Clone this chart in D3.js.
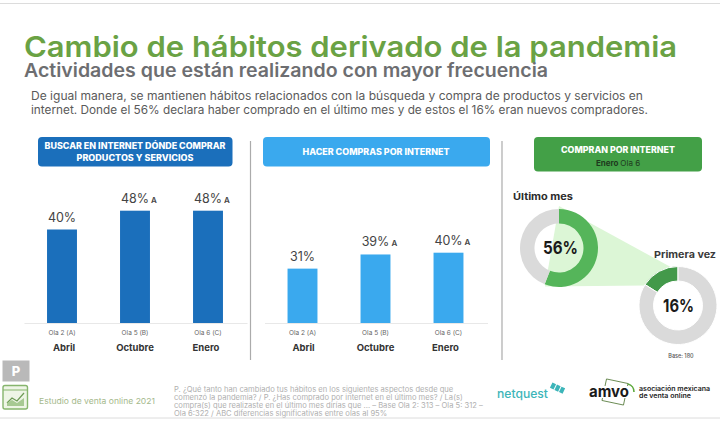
<!DOCTYPE html>
<html>
<head>
<meta charset="utf-8">
<script src="https://cdn.jsdelivr.net/npm/d3@7"></script>
<style>
html, body { margin: 0; padding: 0; background: #fff; }
svg { display: block; }
text { font-family: Inter, "Open Sans", sans-serif; }
</style>
</head>
<body>
<svg id="chart" width="720" height="430"></svg>
<script>
var olas = ["Ola 2 (A)", "Ola 5 (B)", "Ola 6 (C)"];
var months = ["Abril", "Octubre", "Enero"];
var buscarValues = [40, 48, 48];
var comprasValues = [31, 39, 40];
var sigLetters = ["", "A", "A"];
var ultimoMes = [56, 44];
var primeraVez = [16, 84];
var footnote = [
    "P. ¿Qué tanto han cambiado tus hábitos en los siguientes aspectos desde que",
    "comenzó la pandemia? / P. ¿Has comprado por internet en el último mes? / La(s)",
    "compra(s) que realizaste en el último mes dirías que ... – Base Ola 2: 313 – Ola 5: 312 –",
    "Ola 6:322 / ABC diferencias significativas entre olas al 95%"
];

var svg = d3.select("#chart");
var baseY = 323.5;

function label(x, y, str, size, weight, color, anchor, len) {
    var t = svg.append("text")
        .attr("x", x).attr("y", y)
        .attr("font-size", size)
        .attr("font-weight", weight)
        .attr("fill", color)
        .attr("text-anchor", anchor || "start")
        .text(str);
    if (len) t.attr("textLength", len).attr("lengthAdjust", "spacingAndGlyphs");
    return t;
}

function hline(y) {
    svg.append("line").attr("x1", 0).attr("x2", 720).attr("y1", y).attr("y2", y)
        .attr("stroke", "#dcdcdc").attr("stroke-width", 1);
}

function divider(x) {
    svg.append("line").attr("x1", x).attr("x2", x).attr("y1", 141).attr("y2", 360)
        .attr("stroke", "#ababab").attr("stroke-width", 1.2);
}

function header(x, y, w, h, color) {
    svg.append("rect").attr("x", x).attr("y", y).attr("width", w).attr("height", h)
        .attr("rx", 4).attr("fill", color);
}

function barPanel(x0, pxPerPct, values, color, offsets) {
    var x = d3.scaleBand().domain(months).range([x0, x0 + 219]).paddingInner(0.59).paddingOuter(0.295);
    var y = d3.scaleLinear().domain([0, 100]).range([baseY, baseY - pxPerPct * 100]);
    var g = svg.append("g");

    g.selectAll("rect").data(values).enter().append("rect")
        .attr("x", (d, i) => x(months[i]))
        .attr("y", d => y(d))
        .attr("width", x.bandwidth())
        .attr("height", d => baseY - y(d))
        .attr("fill", color);

    var axis = g.append("g").attr("transform", `translate(0,${baseY})`)
        .call(d3.axisBottom(x).tickSize(0).tickPadding(7).tickFormat((d, i) => olas[i]));
    axis.select(".domain").attr("stroke", "#e8e8e8").attr("stroke-width", 1.2)
        .attr("d", `M${x0 - 1},0H${x0 + 222}`);
    axis.selectAll("text").attr("font-size", 6.5).attr("fill", "#666").attr("font-family", "Inter");

    months.forEach((m, i) => {
        var cx = x(m) + x.bandwidth() / 2;
        label(cx + offsets[i], 351, m, 9.5, 700, "#333", "middle");
        label(cx, y(values[i]) - 8, values[i] + "%", 12.5, 400, "#444", "middle");
        if (sigLetters[i]) {
            label(cx + 19, y(values[i]) - 8, sigLetters[i], 8, 600, "#444", "middle");
        }
    });
}

function donut(cx, cy, values, direction, color, gap) {
    var pie = d3.pie().sort(null).startAngle(0).endAngle(direction * 2 * Math.PI);
    var arc = d3.arc().innerRadius(24.5).outerRadius(39);
    svg.append("g").attr("transform", `translate(${cx},${cy})`)
        .selectAll("path").data(pie(values)).enter().append("path")
        .attr("d", arc)
        .attr("fill", (d, i) => i == 0 ? color : "#dadada")
        .attr("stroke", gap ? "#fff" : "none")
        .attr("stroke-width", gap);
}

hline(3.5);
hline(418);

// heading
label(24, 57, "Cambio de hábitos derivado de la pandemia", 29, 600, "#6aa244", "start", 653);
label(24, 76.5, "Actividades que están realizando con mayor frecuencia", 18.5, 600, "#6d6e71", "start", 524);
label(31, 100, "De igual manera, se mantienen hábitos relacionados con la búsqueda y compra de productos y servicios en", 11.5, 400, "#5a5a5a", "start", 612);
label(31, 113.5, "internet. Donde el 56% declara haber comprado en el último mes y de estos el 16% eran nuevos compradores.", 11.5, 400, "#5a5a5a", "start", 617);

// panel headers
header(38, 137, 194.5, 29.5, "#1b6fbb");
header(263, 137, 227, 29.5, "#3aa9ee");
header(534, 137, 168, 34.5, "#43a047");
label(135, 149, "BUSCAR EN INTERNET DÓNDE COMPRAR", 8.5, 800, "#fff", "middle", 181);
label(135, 160.5, "PRODUCTOS Y SERVICIOS", 8.5, 800, "#fff", "middle", 117);
label(376, 155, "HACER COMPRAS POR INTERNET", 8.5, 800, "#fff", "middle", 147);
label(618, 153, "COMPRAN POR INTERNET", 8.5, 800, "#fff", "middle", 114);
var enero = label(618, 165.5, "", 8, 700, "#1e3a1e", "middle");
enero.append("tspan").attr("font-weight", 700).text("Enero ");
enero.append("tspan").attr("font-weight", 400).text("Ola 6");

divider(250.5);
divider(502);

barPanel(25.5, 2.35, buscarValues, "#1b6fbb", [2, 0, -2]);
barPanel(266, 1.77, comprasValues, "#3aa9ee", [1, 0, -3]);

// wedge linking the two donuts
svg.append("path")
    .attr("d", "M559,206L678,271L645,285.5L545,286.5Z")
    .attr("fill", "#dcf6d6");
donut(559, 248, ultimoMes, 1, "#55b55a", 0);
donut(678, 305.5, primeraVez, -1, "#43994a", 1);
label(560.5, 254, ultimoMes[0] + "%", 18, 700, "#1a1a1a", "middle", 35);
label(678.5, 311.5, primeraVez[0] + "%", 18, 700, "#1a1a1a", "middle", 31);
label(513, 200, "Último mes", 9.5, 700, "#2b2b2b", "start", 60);
label(654, 258, "Primera vez", 9.5, 700, "#3a3a3a", "start", 62);
label(681, 358, "Base: 180", 5.5, 500, "#555", "middle");

// footer left
svg.append("rect").attr("x", 2.5).attr("y", 360.5).attr("width", 27).attr("height", 21).attr("fill", "#b9b9b9");
label(16, 376, "P", 13, 800, "#fff", "middle");
svg.append("rect").attr("x", 3).attr("y", 385.5).attr("width", 24.5).attr("height", 23.5)
    .attr("rx", 2).attr("fill", "#eef5e6").attr("stroke", "#86b56d").attr("stroke-width", 1.4);
svg.append("line").attr("x1", 3).attr("x2", 27.5).attr("y1", 390).attr("y2", 390)
    .attr("stroke", "#86b56d");
svg.append("path").attr("d", "M7,403L12,398L17,401L24,393").attr("fill", "none").attr("stroke", "#6d9a55").attr("stroke-width", 1.2);
svg.append("path").attr("d", "M7,406V403L12,400L17,403L24,398V406Z").attr("fill", "#a7c993");
label(39, 404, "Estudio de venta online 2021", 8, 400, "#a5b98c", "start", 116);

footnote.forEach((line, i) => {
    label(174, 391.5 + i * 8, line, 7.6, 400, "#b0b0b0");
});

// logos
label(497, 398, "netquest", 12, 500, "#3cb5b9", "start", 51);
var mark = svg.append("g").attr("transform", "translate(553,386) rotate(25)").attr("fill", "#3cb5b9");
[0, 5, 10].forEach(dx => {
    mark.append("rect").attr("x", dx - 2).attr("y", -3).attr("width", 4).attr("height", 6);
});
svg.append("rect").attr("x", 604).attr("y", 381).attr("width", 22).attr("height", 22)
    .attr("transform", "rotate(12 615 392)").attr("fill", "none").attr("stroke", "#557a3a").attr("stroke-width", 0.8);
svg.append("rect").attr("x", 589).attr("y", 386).attr("width", 42).attr("height", 12).attr("fill", "#fff");
label(589, 397, "amvo", 16, 700, "#1a1a1a", "start", 40);
svg.append("path").attr("d", "M628,384A8,8 0 0 1 634,392").attr("fill", "none").attr("stroke", "#5da93c").attr("stroke-width", 1.6);
label(639, 390.7, "asociación mexicana", 6.2, 600, "#222", "start", 71);
label(639, 397.5, "de venta online", 6.2, 600, "#222", "start", 52);
</script>
</body>
</html>
